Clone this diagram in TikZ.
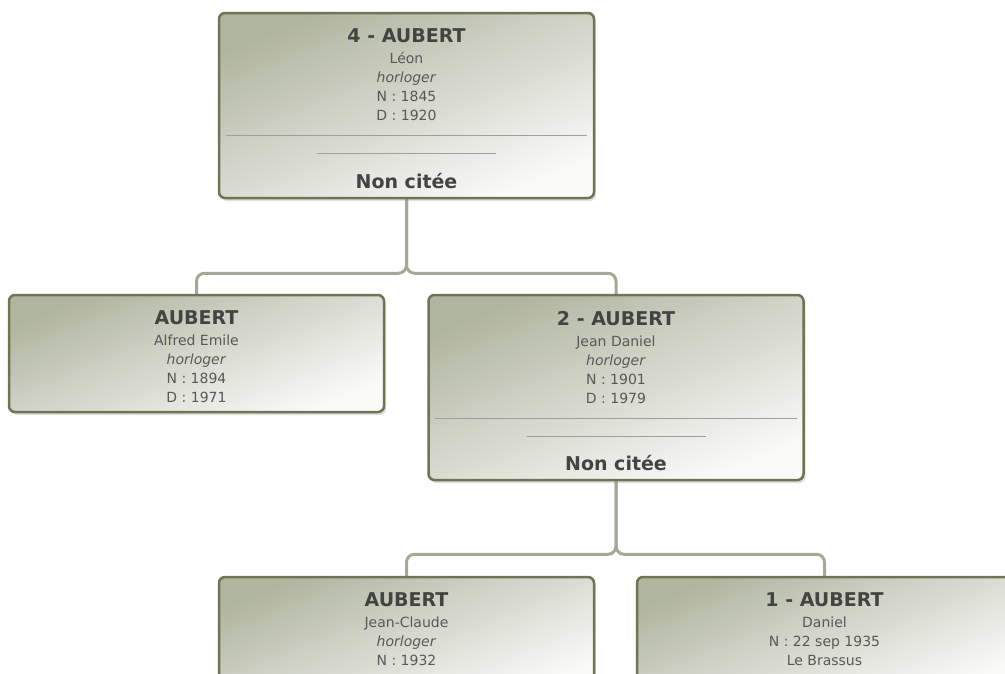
\documentclass[tikz,border=0pt]{standalone}
\usepackage{fontspec}
\setmainfont{DejaVu Sans}
\usetikzlibrary{positioning,shadows,backgrounds}
\definecolor{oliva}{HTML}{6F7455}
\definecolor{fondo}{HTML}{B0B5A0}
\definecolor{claro}{HTML}{FAFAF9}
\definecolor{enlacegris}{HTML}{A4A996}
\definecolor{textogris}{HTML}{585858}
\definecolor{titulogris}{HTML}{424442}
\newcommand{\apellido}[1]{{\fontsize{19}{19}\selectfont\bfseries\color{titulogris}#1}}
\tikzstyle{persona} = [draw=oliva, line width=2.5pt, rounded corners=6pt, top color=fondo, bottom color=claro, shading angle=22, minimum width=375pt, inner sep=0pt, drop shadow={shadow xshift=2pt, shadow yshift=-3pt, opacity=0.25}]
\tikzstyle{datos} = [align=center, inner sep=0pt, text=textogris, font=\fontsize{14}{19}\selectfont]
\tikzstyle{separador} = [draw=gray!75, line width=0.8pt]
\tikzstyle{enlace} = [draw=enlacegris, line width=3pt, rounded corners=8pt]

\begin{document}
\begin{tikzpicture}[x=1pt, y=-1pt]
	\useasboundingbox (0,0) rectangle (1005,673);
	% generation 4
	\node[persona, minimum height=185pt] (abuelo) at (406.5,105.5) {};
	\node[datos, below=17pt of abuelo.north] (abuelodatos) {\apellido{4 - AUBERT}\\[2pt] Léon\\ \emph{horloger}\\ N : 1845\\ D : 1920};
	\draw[separador] ([shift={(8pt,-124pt)}]abuelo.north west) -- ([shift={(-8pt,-124pt)}]abuelo.north east);
	\draw[separador] ([shift={(-89.5pt,-142pt)}]abuelo.north) -- ([shift={(89.5pt,-142pt)}]abuelo.north);
	\node[datos, above=10pt of abuelo.south] (abuelonota) {\apellido{Non citée}};
	% generation 3
	\node[persona, minimum height=117pt] (tio) at (196.5,353.5) {};
	\node[datos, below=17pt of tio.north] (tiodatos) {\apellido{AUBERT}\\[2pt] Alfred Emile\\ \emph{horloger}\\ N : 1894\\ D : 1971};
	\node[persona, minimum height=185pt] (padre) at (616,387.5) {};
	\node[datos, below=17pt of padre.north] (padredatos) {\apellido{2 - AUBERT}\\[2pt] Jean Daniel\\ \emph{horloger}\\ N : 1901\\ D : 1979};
	\draw[separador] ([shift={(8pt,-125pt)}]padre.north west) -- ([shift={(-8pt,-125pt)}]padre.north east);
	\draw[separador] ([shift={(-89.5pt,-143pt)}]padre.north) -- ([shift={(89.5pt,-143pt)}]padre.north);
	\node[datos, above=10pt of padre.south] (padrenota) {\apellido{Non citée}};
	% generation 2
	\node[persona, minimum height=117pt] (hermano) at (406.5,635.5) {};
	\node[datos, below=17pt of hermano.north] (hermanodatos) {\apellido{AUBERT}\\[2pt] Jean-Claude\\ \emph{horloger}\\ N : 1932};
	\node[persona, minimum height=117pt] (daniel) at (824.5,635.5) {};
	\node[datos, below=17pt of daniel.north] (danieldatos) {\apellido{1 - AUBERT}\\[2pt] Daniel\\ N : 22 sep 1935\\ Le Brassus};
	% links
	\begin{scope}[on background layer]
		\draw[enlace] (abuelo.south) -- ++(0,74) -| (tio.north);
		\draw[enlace] (abuelo.south) -- ++(0,74) -| (padre.north);
		\draw[enlace] (padre.south) -- ++(0,73) -| (hermano.north);
		\draw[enlace] (padre.south) -- ++(0,73) -| (daniel.north);
	\end{scope}
\end{tikzpicture}
\end{document}
